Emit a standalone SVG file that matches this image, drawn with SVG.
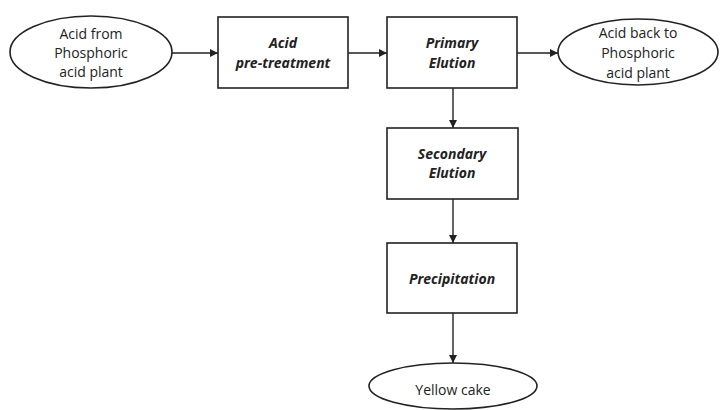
<svg xmlns="http://www.w3.org/2000/svg" width="720" height="410" viewBox="0 0 720 410">
<style>
.shape{fill:#fff;stroke:#222;stroke-width:1.6}
.conn{stroke:#222;stroke-width:1.4;fill:none;marker-end:url(#ah)}
text{font-family:"Open Sans","Liberation Sans",sans-serif;font-size:14px;fill:#222;text-anchor:middle}
.b{font-weight:bold;font-style:italic}
</style>
<defs>
<marker id="ah" viewBox="0 0 10 10" refX="10" refY="5" markerWidth="8" markerHeight="8" markerUnits="userSpaceOnUse" orient="auto">
<path d="M0,0 L10,5 L0,10 z" fill="#222"/>
</marker>
</defs>
<rect width="720" height="410" fill="#fff"/>
<g id="connectors">
<line class="conn" x1="172" y1="53" x2="218" y2="53"/>
<line class="conn" x1="348" y1="53" x2="387" y2="53"/>
<line class="conn" x1="517" y1="53" x2="558" y2="53"/>
<line class="conn" x1="453" y1="88" x2="453" y2="128"/>
<line class="conn" x1="453" y1="199" x2="453" y2="243"/>
<line class="conn" x1="453" y1="313" x2="453" y2="363"/>
</g>
<g id="n1">
<ellipse class="shape" cx="91" cy="52" rx="81" ry="36"/>
<text x="91" y="39">Acid from</text>
<text x="91" y="58">Phosphoric</text>
<text x="91" y="77">acid plant</text>
</g>
<g id="n2">
<rect class="shape" x="218" y="17" width="130" height="71"/>
<text class="b" x="283" y="48">Acid</text>
<text class="b" x="283" y="68">pre-treatment</text>
</g>
<g id="n3">
<rect class="shape" x="387" y="17" width="130" height="71"/>
<text class="b" x="452" y="48">Primary</text>
<text class="b" x="452" y="68">Elution</text>
</g>
<g id="n4">
<ellipse class="shape" cx="638" cy="52" rx="80" ry="33"/>
<text x="638" y="38">Acid back to</text>
<text x="638" y="58">Phosphoric</text>
<text x="638" y="78">acid plant</text>
</g>
<g id="n5">
<rect class="shape" x="387" y="128" width="131" height="71"/>
<text class="b" x="452" y="159">Secondary</text>
<text class="b" x="452" y="178">Elution</text>
</g>
<g id="n6">
<rect class="shape" x="387" y="243" width="130" height="70"/>
<text class="b" x="452" y="284">Precipitation</text>
</g>
<g id="n7">
<ellipse class="shape" cx="453" cy="386" rx="84" ry="23"/>
<text x="453" y="395">Yellow cake</text>
</g>
</svg>
